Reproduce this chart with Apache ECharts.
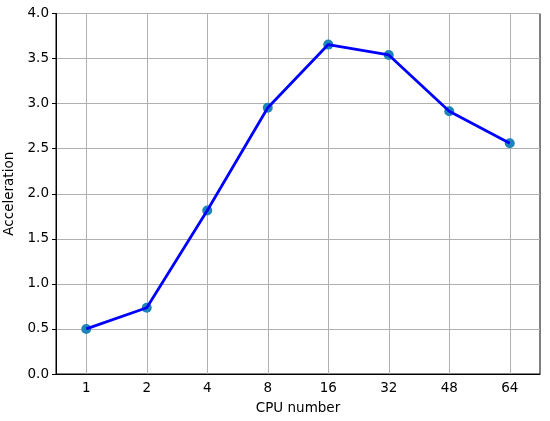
<!DOCTYPE html>
<html>
<head>
<meta charset="utf-8">
<script src="https://cdn.jsdelivr.net/npm/echarts@6/dist/echarts.min.js"></script>
<style>
html, body { margin: 0; padding: 0; background: #fff; }
#chart { width: 550px; height: 421px; }
</style>
</head>
<body>
<div id="chart"></div>
<script>
var cpuLabels = ['1', '2', '4', '8', '16', '32', '48', '64'];
var acceleration = [0.5, 0.735, 1.815, 2.955, 3.655, 3.54, 2.915, 2.56];

var font = 'DejaVu Sans';
var chart = echarts.init(document.getElementById('chart'));

chart.setOption({
	animation: false,
	grid: {
		left: 56,
		right: 10,
		top: 13.5,
		bottom: 47,
		outerBoundsMode: 'none',
		containLabel: false,
		show: true,
		borderColor: '#000',
		borderWidth: 1
	},
	xAxis: {
		type: 'category',
		data: cpuLabels,
		boundaryGap: true,
		name: 'CPU number',
		nameLocation: 'middle',
		nameGap: 27,
		nameTextStyle: { color: '#000', fontFamily: font, fontSize: 13.5 },
		axisLine: { lineStyle: { color: '#000', width: 1 } },
		axisTick: { alignWithLabel: true, length: 4, lineStyle: { color: '#000' } },
		axisLabel: { color: '#000', fontFamily: font, fontSize: 13.5, margin: 7 },
		splitLine: {
			show: true,
			alignWithLabel: true,
			lineStyle: { color: '#b0b0b0', width: 1 }
		}
	},
	yAxis: {
		type: 'value',
		min: 0,
		max: 4,
		interval: 0.5,
		name: 'Acceleration',
		nameLocation: 'middle',
		nameGap: 34,
		nameTextStyle: { color: '#000', fontFamily: font, fontSize: 13.5 },
		axisLine: { show: true, lineStyle: { color: '#000', width: 1 } },
		axisTick: { show: true, length: 4, lineStyle: { color: '#000' } },
		axisLabel: {
			color: '#000', fontFamily: font, fontSize: 13.5, margin: 7,
			formatter: function (v) { return v.toFixed(1); }
		},
		splitLine: { show: true, lineStyle: { color: '#b0b0b0', width: 1 } }
	},
	series: [{
			type: 'scatter',
			data: acceleration,
			symbolSize: 10,
			itemStyle: { color: '#1f85b8', opacity: 1 },
			z: 2
		}, {
			type: 'line',
			data: acceleration,
			showSymbol: false,
			lineStyle: { color: '#0000ff', width: 2.8 },
			z: 3
		}
	]
});
</script>
</body>
</html>
